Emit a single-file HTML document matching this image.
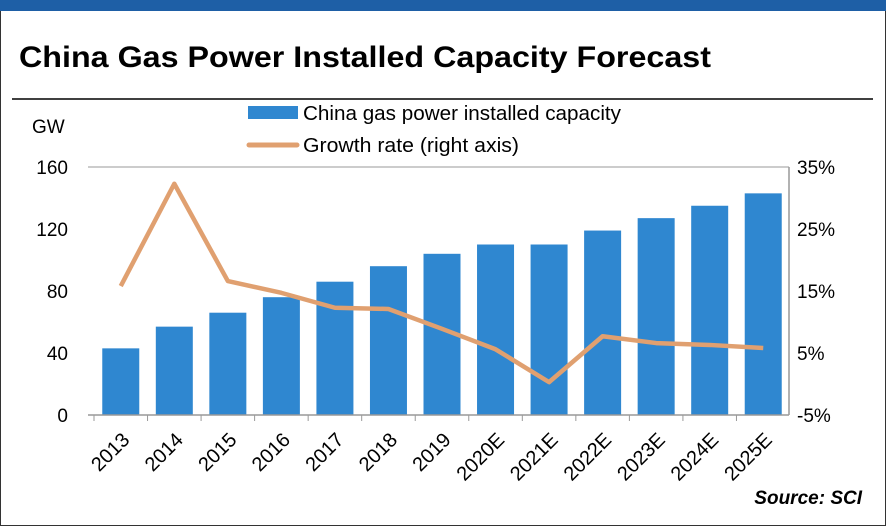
<!DOCTYPE html>
<html><head><meta charset="utf-8"><style>
body{margin:0;width:886px;height:526px;overflow:hidden;background:#fff;font-family:"Liberation Sans",sans-serif}
#frame{position:absolute;left:0;top:0;width:884px;height:524px;border:1px solid #333}
</style></head><body>
<div id="frame"></div>
<svg width="886" height="526" style="position:absolute;left:0;top:0" id="chart">
<rect x="0" y="0" width="886" height="11" fill="#1e5fa6"/>
<text x="19" y="67" font-size="30" font-weight="bold" fill="#000" textLength="692" lengthAdjust="spacingAndGlyphs">China Gas Power Installed Capacity Forecast</text>
<line x1="12" y1="99" x2="873" y2="99" stroke="#000" stroke-width="1.5"/>
<text x="32" y="133" font-size="19">GW</text>
<rect x="248" y="106" width="50" height="13" fill="#2f87d0"/>
<text x="303" y="120" font-size="20" textLength="318" lengthAdjust="spacingAndGlyphs">China gas power installed capacity</text>
<line x1="249" y1="145" x2="297" y2="145" stroke="#e0a070" stroke-width="5" stroke-linecap="round"/>
<text x="303" y="152" font-size="20" textLength="216" lengthAdjust="spacingAndGlyphs">Growth rate (right axis)</text>
<text x="862" y="504" font-size="19" font-weight="bold" font-style="italic" text-anchor="end">Source: SCI</text>
<g id="plot"></g>
</svg>
<script>
const categories=["2013","2014","2015","2016","2017","2018","2019","2020E","2021E","2022E","2023E","2024E","2025E"];
const capacity=[43,57,66,76,86,96,104,110,110,119,127,135,143];
const growth=[15.8,32.3,16.6,14.7,12.3,12.1,8.9,5.6,0.3,7.7,6.6,6.3,5.8];
const leftTicks=[0,40,80,120,160];
const rightTicks=[-5,5,15,25,35];
const NS="http://www.w3.org/2000/svg";
const g=document.getElementById('plot');
const x0=94,pw=696,yTop=167,yBot=415,band=pw/categories.length;
const yL=v=>yBot-(v/160)*(yBot-yTop);
const yR=v=>yBot-((v+5)/40)*(yBot-yTop);
const xc=i=>x0+band*(i+0.5);
function mk(t,a){const e=document.createElementNS(NS,t);for(const k in a)e.setAttribute(k,a[k]);g.appendChild(e);return e;}
let gl=mk('line',{x1:88,y1:yTop,x2:789,y2:yTop,stroke:'#bbb','stroke-width':1.5});

capacity.forEach((v,i)=>{const r=mk('rect',{x:xc(i)-18.5,y:yL(v),width:37,height:yBot-yL(v),fill:'#2f87d0'});

});
let ax=mk('line',{x1:88,y1:yBot,x2:789,y2:yBot,stroke:'#999','stroke-width':1.5});

let ra=mk('line',{x1:789,y1:yTop,x2:789,y2:yBot,stroke:'#999','stroke-width':1.5});

categories.forEach((c,i)=>{const tk=mk('line',{x1:x0+band*i,y1:yBot,x2:x0+band*i,y2:yBot+6,stroke:'#999'});

const t=mk('text',{x:xc(i)+10,y:yBot+26,'font-size':20,'text-anchor':'end',transform:`rotate(-45 ${xc(i)+10} ${yBot+26})`});
t.textContent=c;

});
leftTicks.forEach(v=>{const t=mk('text',{x:68,y:yL(v)+7,'font-size':19,'text-anchor':'end'});t.textContent=v;

});
rightTicks.forEach(v=>{const t=mk('text',{x:797,y:yR(v)+7,'font-size':19});t.textContent=v+'%';

});
const ln=mk('polyline',{points:growth.map((v,i)=>xc(i)+','+yR(v)).join(' '),fill:'none',stroke:'#e0a070','stroke-width':4.5,'stroke-linejoin':'round'});


</script>
</body></html>
